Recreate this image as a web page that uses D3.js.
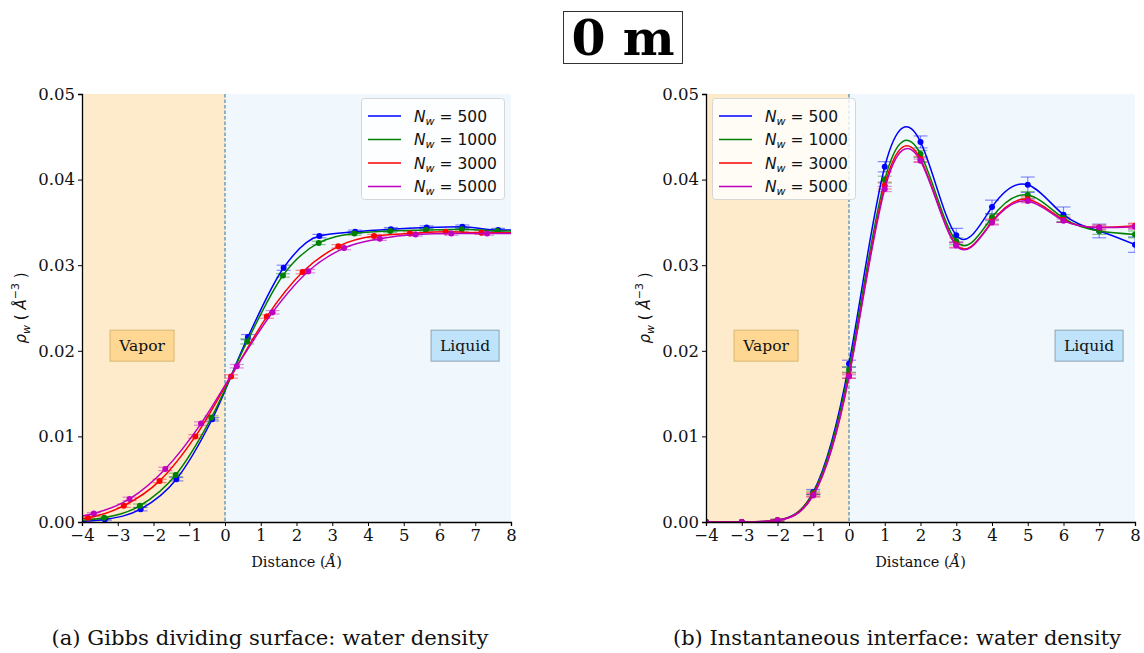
<!DOCTYPE html>
<html>
<head>
<meta charset="utf-8">
<script src="https://cdn.jsdelivr.net/npm/d3@7"></script>
<style>
  html, body { margin: 0; padding: 0; background: #fff; }
  svg { display: block; }
</style>
</head>
<body>
<svg id="fig" width="1144" height="653"></svg>
<script>
// ---- data -------------------------------------------------------------
const seriesNames = ["500", "1000", "3000", "5000"];
const seriesColors = ["#0000ff", "#008000", "#ff0000", "#bf00bf"];
const xTicks = [-4, -3, -2, -1, 0, 1, 2, 3, 4, 5, 6, 7, 8];
const yTicks = [0.00, 0.01, 0.02, 0.03, 0.04, 0.05];

// (a) Gibbs dividing surface: sample positions per system size
const gibbsX500  = [-3.36, -2.36, -1.36, -0.36, 0.64, 1.64, 2.64, 3.64, 4.64, 5.64, 6.64, 7.64];
const gibbsX1000 = [-3.38, -2.38, -1.38, -0.38, 0.62, 1.62, 2.62, 3.62, 4.62, 5.62, 6.62, 7.62];
const gibbsX3000 = [-3.83, -2.83, -1.83, -0.83, 0.17, 1.17, 2.17, 3.17, 4.17, 5.17, 6.17, 7.17];
const gibbsX5000 = [-3.67, -2.67, -1.67, -0.67, 0.33, 1.33, 2.33, 3.33, 4.33, 5.33, 6.33, 7.33];
const gibbsY500  = [0.0003, 0.0015, 0.0050, 0.0120, 0.0216, 0.0297, 0.0334, 0.0339, 0.0342, 0.0344, 0.0345, 0.0341];
const gibbsY1000 = [0.0005, 0.0019, 0.0055, 0.0122, 0.0211, 0.0288, 0.0326, 0.0337, 0.0340, 0.0341, 0.0342, 0.0340];
const gibbsY3000 = [0.0005, 0.0019, 0.0048, 0.0100, 0.0170, 0.0240, 0.0292, 0.0322, 0.0334, 0.0337, 0.0339, 0.0338];
const gibbsY5000 = [0.0010, 0.0027, 0.0062, 0.0115, 0.0182, 0.0245, 0.0293, 0.0320, 0.0331, 0.0336, 0.0337, 0.0337];
const gibbsErr500  = [0.0001, 0.0002, 0.0002, 0.0002, 0.0003, 0.0003, 0.0002, 0.0002, 0.0002, 0.0002, 0.0002, 0.0002];
const gibbsErr1000 = [0.0001, 0.0002, 0.0002, 0.0002, 0.0003, 0.0002, 0.0002, 0.0002, 0.0002, 0.0002, 0.0002, 0.0002];
const gibbsErr3000 = [0.0001, 0.0002, 0.0002, 0.0002, 0.0002, 0.0002, 0.0002, 0.0002, 0.0002, 0.0002, 0.0002, 0.0002];
const gibbsErr5000 = [0.0001, 0.0002, 0.0002, 0.0002, 0.0002, 0.0002, 0.0002, 0.0002, 0.0002, 0.0002, 0.0002, 0.0002];
// fitted profile values at the plot edges (x = -4 and x = 8)
const gibbsEdgeLeft  = [0.0001, 0.0002, 0.0004, 0.0007];
const gibbsEdgeRight = [0.0341, 0.0340, 0.0338, 0.0337];

// (b) instantaneous interface: sampled on integer distances
const instX = [-4, -3, -2, -1, 0, 1, 2, 3, 4, 5, 6, 7, 8];
const instY500  = [0.0000, 0.0000, 0.0002, 0.0035, 0.0185, 0.0415, 0.0444, 0.0335, 0.0368, 0.0394, 0.0359, 0.0340, 0.0324];
const instY1000 = [0.0000, 0.0000, 0.0002, 0.0034, 0.0178, 0.0400, 0.0430, 0.0328, 0.0356, 0.0382, 0.0355, 0.0340, 0.0336];
const instY3000 = [0.0000, 0.0000, 0.0002, 0.0032, 0.0171, 0.0393, 0.0424, 0.0324, 0.0351, 0.0377, 0.0353, 0.0344, 0.0346];
const instY5000 = [0.0000, 0.0000, 0.0002, 0.0031, 0.0170, 0.0389, 0.0422, 0.0323, 0.0350, 0.0375, 0.0352, 0.0344, 0.0345];
const instErr500  = [0.0000, 0.0000, 0.0001, 0.0003, 0.0004, 0.0006, 0.0007, 0.0008, 0.0008, 0.0009, 0.0009, 0.0008, 0.0009];
const instErr1000 = [0.0000, 0.0000, 0.0001, 0.0002, 0.0003, 0.0004, 0.0004, 0.0004, 0.0004, 0.0004, 0.0004, 0.0004, 0.0004];
const instErr3000 = [0.0000, 0.0000, 0.0001, 0.0002, 0.0003, 0.0004, 0.0003, 0.0003, 0.0003, 0.0003, 0.0003, 0.0003, 0.0003];
const instErr5000 = [0.0000, 0.0000, 0.0001, 0.0002, 0.0002, 0.0003, 0.0002, 0.0003, 0.0003, 0.0002, 0.0002, 0.0002, 0.0003];

const captions = ["(a) Gibbs dividing surface: water density",
                  "(b) Instantaneous interface: water density"];

// ---- assemble series --------------------------------------------------
const zip = (xs, ys, es) => xs.map((x, i) => ({x, y: ys[i], e: es[i]}));
const gibbsSeries = [
  zip(gibbsX500, gibbsY500, gibbsErr500),
  zip(gibbsX1000, gibbsY1000, gibbsErr1000),
  zip(gibbsX3000, gibbsY3000, gibbsErr3000),
  zip(gibbsX5000, gibbsY5000, gibbsErr5000)
].map((pts, i) => ({
  name: seriesNames[i], color: seriesColors[i], points: pts,
  line: [{x: -4, y: gibbsEdgeLeft[i]}, ...pts, {x: 8, y: gibbsEdgeRight[i]}]
}));
const instSeries = [
  zip(instX, instY500, instErr500),
  zip(instX, instY1000, instErr1000),
  zip(instX, instY3000, instErr3000),
  zip(instX, instY5000, instErr5000)
].map((pts, i) => ({name: seriesNames[i], color: seriesColors[i], points: pts, line: pts}));

// ---- drawing ----------------------------------------------------------
const svg = d3.select("#fig");
const serif = "'DejaVu Serif', 'Liberation Serif', serif";
const sans = "'DejaVu Sans', sans-serif";

// figure title in a framed box
const titleG = svg.append("g");
titleG.append("rect").attr("x", 563.5).attr("y", 11.5).attr("width", 119).attr("height", 52)
  .attr("fill", "#fff").attr("stroke", "#333").attr("stroke-width", 1);
titleG.append("text").attr("x", 623).attr("y", 55).attr("text-anchor", "middle")
  .attr("font-family", serif).attr("font-weight", "bold").attr("font-size", 49)
  .text("0 m");

function panel(opts) {
  const {left, top, width, height, series, curve, legendX, caption, captionX, captionW} = opts;
  const g = svg.append("g").attr("transform", `translate(${left},${top})`);
  const x = d3.scaleLinear().domain([-4, 8]).range([0, width]);
  const y = d3.scaleLinear().domain([0, 0.05]).range([height, 0]);
  const clipId = "clip" + left;
  g.append("clipPath").attr("id", clipId).append("rect")
    .attr("x", 0).attr("y", 0).attr("width", width).attr("height", height);

  // vapour / liquid shading
  g.append("rect").attr("x", x(-4)).attr("y", 0).attr("width", x(0) - x(-4)).attr("height", height)
    .attr("fill", "#fdebcc");
  g.append("rect").attr("x", x(0)).attr("y", 0).attr("width", x(8) - x(0)).attr("height", height)
    .attr("fill", "#f0f8fd");
  g.append("line").attr("x1", x(0)).attr("x2", x(0)).attr("y1", 0).attr("y2", height)
    .attr("stroke", "#1f77b4").attr("stroke-width", 1).attr("stroke-dasharray", "3.5,2");

  // phase labels
  const tag = (cx, label, fill, stroke, w) => {
    const cy = height * 0.588;
    g.append("rect").attr("x", cx - w / 2).attr("y", cy - 15.5).attr("width", w).attr("height", 31)
      .attr("fill", fill).attr("stroke", stroke).attr("stroke-width", 1);
    g.append("text").attr("x", cx).attr("y", cy + 5.5).attr("text-anchor", "middle")
      .attr("font-family", serif).attr("font-size", 15.5).attr("fill", "#111").text(label);
  };
  tag(width * 0.14, "Vapor", "#fed892", "#d9b775", 64);
  tag(width * 0.893, "Liquid", "#bee3fb", "#8fa3b3", 68);

  const plot = g.append("g").attr("clip-path", `url(#${clipId})`);
  const lineGen = d3.line().x(d => x(d.x)).y(d => y(d.y)).curve(curve);

  series.forEach(s => {
    // error bars
    const eb = plot.append("g").attr("stroke", s.color).attr("stroke-opacity", 0.45).attr("stroke-width", 1.2);
    s.points.forEach(p => {
      const px = x(p.x), y1 = y(p.y - p.e), y2 = y(p.y + p.e);
      eb.append("line").attr("x1", px).attr("x2", px).attr("y1", y1).attr("y2", y2);
      eb.append("line").attr("x1", px - 7).attr("x2", px + 7).attr("y1", y1).attr("y2", y1);
      eb.append("line").attr("x1", px - 7).attr("x2", px + 7).attr("y1", y2).attr("y2", y2);
    });
  });
  series.forEach(s => {
    plot.append("path").datum(s.line).attr("d", lineGen)
      .attr("fill", "none").attr("stroke", s.color).attr("stroke-width", 1.5);
    plot.append("g").selectAll("circle").data(s.points).join("circle")
      .attr("cx", d => x(d.x)).attr("cy", d => y(d.y)).attr("r", 3).attr("fill", s.color);
  });

  // axes (left and bottom spines only)
  const xAxis = g.append("g").attr("transform", `translate(0,${height})`)
    .call(d3.axisBottom(x).tickValues(xTicks).tickSize(4).tickPadding(3)
      .tickFormat(d => d < 0 ? "\u2212" + Math.abs(d) : String(d)));
  const yAxis = g.append("g")
    .call(d3.axisLeft(y).tickValues(yTicks).tickSize(4).tickPadding(3).tickFormat(d3.format(".2f")));
  [xAxis, yAxis].forEach(a => {
    a.select(".domain").attr("stroke", "#000").attr("stroke-width", 1.3);
    a.selectAll(".tick line").attr("stroke", "#000");
    a.selectAll(".tick text").attr("font-family", serif).attr("font-size", 16.5).attr("fill", "#111");
  });
  xAxis.selectAll(".tick text").attr("dy", "0.75em");

  // axis titles
  const xl = g.append("text").attr("x", width / 2).attr("y", height + 45).attr("text-anchor", "middle")
    .attr("font-family", serif).attr("font-size", 14.5).attr("fill", "#111");
  xl.append("tspan").text("Distance (");
  xl.append("tspan").attr("font-style", "italic").text("Å");
  xl.append("tspan").text(")");

  const yl = g.append("text").attr("transform", `translate(${-56},${height * 0.5}) rotate(-90)`)
    .attr("text-anchor", "middle").attr("font-family", sans).attr("font-size", 15).attr("fill", "#111");
  yl.append("tspan").attr("font-style", "italic").text("ρ");
  yl.append("tspan").attr("font-style", "italic").attr("font-size", 11).attr("dy", 3.5).text("w");
  yl.append("tspan").attr("dy", -3.5).text(" ( ");
  yl.append("tspan").attr("font-style", "italic").text("Å");
  yl.append("tspan").attr("font-size", 11).attr("dy", -7).text("\u22123");
  yl.append("tspan").attr("dy", 7).text(" )");

  // legend
  const lg = g.append("g").attr("transform", `translate(${legendX},4)`);
  lg.append("rect").attr("x", 0.5).attr("y", 0.5).attr("width", 143).attr("height", 101).attr("rx", 3)
    .attr("fill", "#fff").attr("fill-opacity", 0.8).attr("stroke", "#d6d6d6");
  series.forEach((s, i) => {
    const cy = 18 + i * 23.5;
    lg.append("line").attr("x1", 7).attr("x2", 40).attr("y1", cy).attr("y2", cy)
      .attr("stroke", s.color).attr("stroke-width", 1.5);
    const t = lg.append("text").attr("x", 53).attr("y", cy + 5.5)
      .attr("font-family", sans).attr("font-size", 15.5).attr("fill", "#111");
    t.append("tspan").attr("font-style", "italic").text("N");
    t.append("tspan").attr("font-style", "italic").attr("font-size", 11).attr("dy", 3).text("w");
    t.append("tspan").attr("dy", -3).text(" = " + s.name);
  });

  // sub-caption
  svg.append("text").attr("x", captionX).attr("y", 645).attr("text-anchor", "middle")
    .attr("font-family", serif).attr("font-size", 20).attr("fill", "#111")
    .attr("textLength", captionW).attr("lengthAdjust", "spacingAndGlyphs").text(caption);
}

panel({left: 82, top: 94, width: 429, height: 428, series: gibbsSeries,
       curve: d3.curveMonotoneX, legendX: 279, caption: captions[0], captionX: 270, captionW: 437});
panel({left: 706, top: 94, width: 429, height: 428, series: instSeries,
       curve: d3.curveNatural, legendX: 6, caption: captions[1], captionX: 897, captionW: 448});
</script>
</body>
</html>
